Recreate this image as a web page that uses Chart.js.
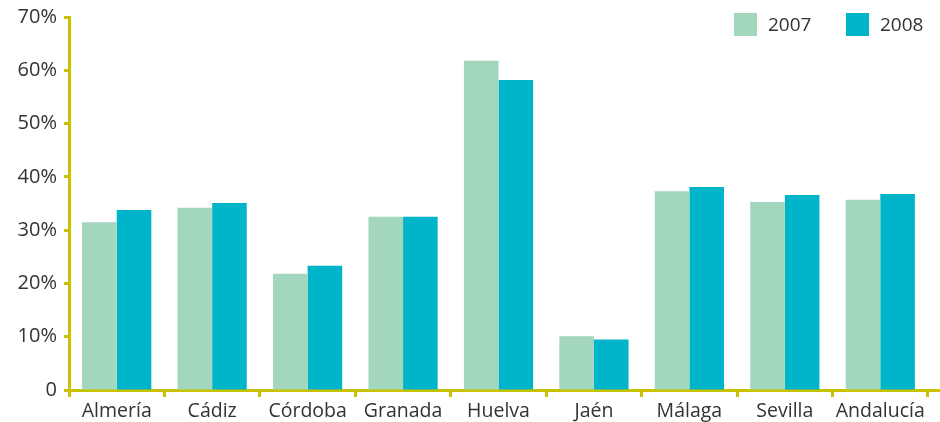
<!DOCTYPE html>
<html>
<head>
<meta charset="utf-8">
<script src="https://cdn.jsdelivr.net/npm/chart.js@4"></script>
<style>
  html, body { margin: 0; padding: 0; background: #fff; }
  #wrap { position: relative; width: 940px; height: 422px; }
  #legend { position: absolute; top: 13px; left: 734px; font-family: 'Open Sans'; font-size: 19px; color: #333; }
  #legend span.item { position: absolute; top: 0; white-space: nowrap; line-height: 23px; }
  #legend span.box { display: inline-block; width: 23px; height: 23px; vertical-align: top; margin-right: 11px; }
</style>
</head>
<body>
<div id="wrap">
  <canvas id="myChart"></canvas>
  <div id="legend"></div>
</div>
<script>
var provincias = ['Almería', 'Cádiz', 'Córdoba', 'Granada', 'Huelva', 'Jaén', 'Málaga', 'Sevilla', 'Andalucía'];
var valores2007 = [31.5, 34.2, 21.8, 32.5, 61.8, 10.1, 37.3, 35.3, 35.7];
var valores2008 = [33.8, 35.1, 23.3, 32.5, 58.2, 9.5, 38.1, 36.6, 36.8];
var series = ['2007', '2008'];
var colores = ['#a2d6bd', '#00b5c9'];

var axisColor = '#c8c200';

// draws the rest of the x axis line out to the canvas edge
var axisExtend = {
  id: 'axisExtend',
  afterDraw: function(chart) {
    var ctx = chart.ctx;
    var y = chart.scales.x.top;
    ctx.save();
    ctx.strokeStyle = axisColor;
    ctx.lineWidth = 3;
    ctx.beginPath();
    ctx.moveTo(chart.chartArea.right - 2, y + 0.5);
    ctx.lineTo(chart.width, y + 0.5);
    ctx.stroke();
    ctx.restore();
  }
};

function makeLegend() {
  var el = document.getElementById('legend');
  var html = '';
  series.forEach(function(s, i) {
    html += '<span class="item" style="left:' + (i * 112) + 'px"><span class="box" style="background:' + colores[i] + '"></span>' + s + '</span>';
  });
  el.innerHTML = html;
}

var ctx = document.getElementById('myChart').getContext('2d');

chart = new Chart(ctx, {
  type: 'bar',
  data: {
    labels: provincias,
    datasets: [{
      label: series[0],
      data: valores2007,
      backgroundColor: colores[0]
    }, {
      label: series[1],
      data: valores2008,
      backgroundColor: colores[1]
    }]
  },
  plugins: [axisExtend],
  options: {
    responsive: true,
    maintainAspectRatio: false,
    animation: false,
    layout: { padding: { top: 15, right: 12, left: 0, bottom: 0 } },
    datasets: {
      bar: { categoryPercentage: 0.725, barPercentage: 1.0 }
    },
    plugins: {
      tooltip: { enabled: false },
      legend: { display: false }
    },
    scales: {
      x: {
        grid: {
          offset: true,
          drawOnChartArea: false,
          tickLength: 7,
          tickWidth: 3,
          tickColor: axisColor
        },
        border: { color: axisColor, width: 3 },
        ticks: {
          color: '#333',
          padding: 3,
          font: { family: 'Open Sans', size: 19.5 }
        },
        afterFit: function(scale) { scale.height = 32; }
      },
      y: {
        min: 0,
        max: 70,
        grid: {
          drawOnChartArea: false,
          tickLength: 5,
          tickWidth: 3,
          tickColor: axisColor
        },
        border: { color: axisColor, width: 3 },
        ticks: {
          stepSize: 10,
          color: '#333',
          padding: 7,
          font: { family: 'Open Sans', size: 20, lineHeight: 1 },
          callback: function(v) { return v === 0 ? '0' : v + '%'; }
        },
        afterFit: function(scale) { scale.width = 69; }
      }
    }
  }
});

makeLegend();
</script>
</body>
</html>
